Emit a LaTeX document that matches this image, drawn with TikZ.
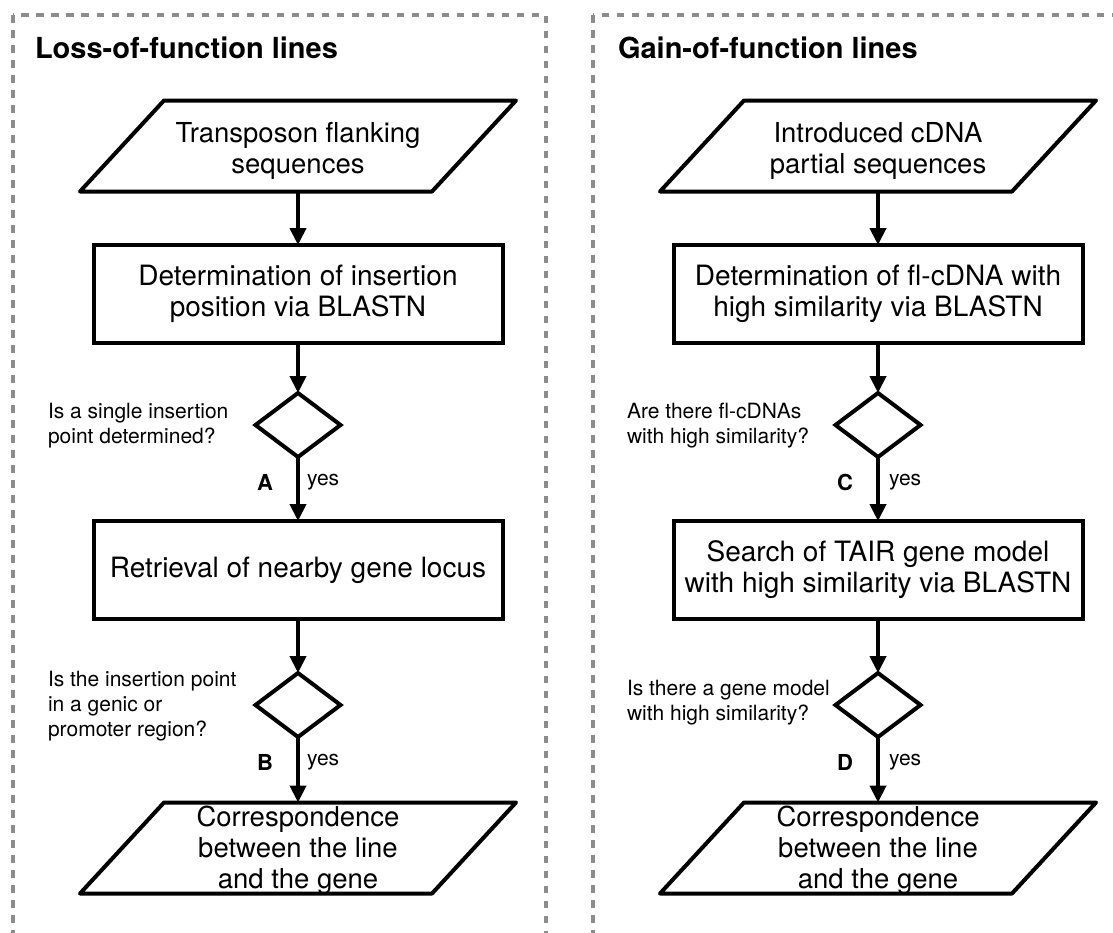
\documentclass[tikz,border=0pt]{standalone}
\usepackage{fontspec}
\setmainfont{TeX Gyre Heros}
\usetikzlibrary{arrows.meta,shapes.geometric,calc}
\definecolor{panelgray}{HTML}{8C8C8C}
\begin{document}
\begin{tikzpicture}[x=1pt,y=-1pt,
  every node/.style={inner sep=0pt, outer sep=0pt},
  panel/.style={draw=panelgray, line width=3.5pt, dash pattern=on 7.5pt off 7.5pt},
  paneltitle/.style={font=\fontsize{29}{32}\selectfont\bfseries, anchor=base west},
  stepbox/.style={draw, line width=4pt, line join=miter, minimum width=409pt, minimum height=98pt, align=center, font=\fontsize{28}{31}\selectfont},
  iobox/.style={minimum width=352pt, minimum height=91pt},
  iotext/.style={align=center, font=\fontsize{27.5}{31}\selectfont},
  decision/.style={draw, diamond, line width=4pt, minimum width=85pt, minimum height=64pt},
  question/.style={anchor=west, align=left, font=\fontsize{21}{25}\selectfont},
  tagtext/.style={font=\fontsize{22}{25}\selectfont\bfseries},
  yeslabel/.style={anchor=west, font=\fontsize{21}{25}\selectfont},
  flow/.style={line width=4pt, -{Triangle[length=17pt,width=16pt]}},
  outline/.style={line width=4pt, line join=round},
]
\useasboundingbox (0,0) rectangle (1113,932);
\begin{scope}
  \clip (0,0) rectangle (1113,932);
  \draw[panel] (13,15) rectangle (546,960);
  \draw[panel] (593,15) rectangle (1126,960);
\end{scope}

% ---------- left column ----------
\node[paneltitle] (t1) at (35,58) {Loss-of-function lines};
\node[iobox] (p1) at (298,146) {};
\draw[outline] ($(p1.north west)+(42,0)$) -- ($(p1.north east)+(42,0)$) -- ($(p1.south east)+(-42,0)$) -- ($(p1.south west)+(-42,0)$) -- cycle;
\node[iotext] (p1t) at (298,151) {Transposon flanking\\sequences};
\node[stepbox] (b1) at (298,294) {Determination of insertion\\position via BLASTN};
\node[decision] (d1) at (298,425) {};
\node[question] (q1) at (48,426) {Is a single insertion\\point determined?};
\node[tagtext] (ta) at (265,482) {A};
\node[yeslabel] (y1) at (307,482) {yes};
\node[stepbox] (b2) at (298,570) {Retrieval of nearby gene locus};
\node[decision] (d2) at (298,705) {};
\node[question] (q2) at (48,706) {Is the insertion point\\in a genic or\\promoter region?};
\node[tagtext] (tb) at (265,762) {B};
\node[yeslabel] (y2) at (307,762) {yes};
\node[iobox] (p2) at (298,848) {};
\draw[outline] ($(p2.north west)+(42,0)$) -- ($(p2.north east)+(42,0)$) -- ($(p2.south east)+(-42,0)$) -- ($(p2.south west)+(-42,0)$) -- cycle;
\node[iotext] (p2t) at (298,850) {Correspondence\\between the line\\and the gene};

\draw[flow] (p1.south) -- (b1.north);
\draw[flow] (b1.south) -- (d1.north);
\draw[flow] (d1.south) -- (b2.north);
\draw[flow] (b2.south) -- (d2.north);
\draw[flow] (d2.south) -- (p2.north);

% ---------- right column ----------
\node[paneltitle] (t2) at (618,58) {Gain-of-function lines};
\node[iobox] (p3) at (878,146) {};
\draw[outline] ($(p3.north west)+(42,0)$) -- ($(p3.north east)+(42,0)$) -- ($(p3.south east)+(-42,0)$) -- ($(p3.south west)+(-42,0)$) -- cycle;
\node[iotext] (p3t) at (878,151) {Introduced cDNA\\partial sequences};
\node[stepbox] (b3) at (878,294) {Determination of fl-cDNA with\\high similarity via BLASTN};
\node[decision] (d3) at (878,425) {};
\node[question] (q3) at (627,426) {Are there fl-cDNAs\\with high similarity?};
\node[tagtext] (tc) at (845,482) {C};
\node[yeslabel] (y3) at (889,482) {yes};
\node[stepbox] (b4) at (878,570) {Search of TAIR gene model\\with high similarity via BLASTN};
\node[decision] (d4) at (878,705) {};
\node[question] (q4) at (627,703) {Is there a gene model\\with high similarity?};
\node[tagtext] (td) at (845,762) {D};
\node[yeslabel] (y4) at (889,762) {yes};
\node[iobox] (p4) at (878,848) {};
\draw[outline] ($(p4.north west)+(42,0)$) -- ($(p4.north east)+(42,0)$) -- ($(p4.south east)+(-42,0)$) -- ($(p4.south west)+(-42,0)$) -- cycle;
\node[iotext] (p4t) at (878,850) {Correspondence\\between the line\\and the gene};

\draw[flow] (p3.south) -- (b3.north);
\draw[flow] (b3.south) -- (d3.north);
\draw[flow] (d3.south) -- (b4.north);
\draw[flow] (b4.south) -- (d4.north);
\draw[flow] (d4.south) -- (p4.north);
\end{tikzpicture}
\end{document}
